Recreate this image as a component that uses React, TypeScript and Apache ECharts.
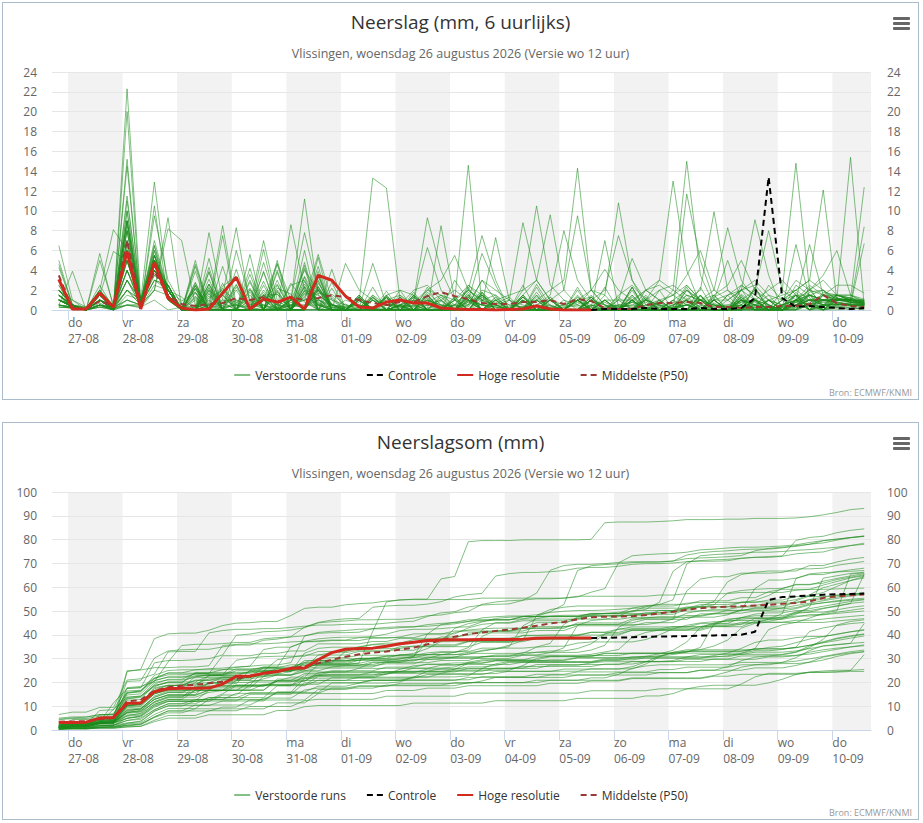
import React, { useEffect, useRef } from "react";
import * as echarts from "echarts";

const FONT = '"Open Sans", "DejaVu Sans", sans-serif';

// x-axis: hours relative to do 27-08 00:00 (local)
const dayNames = ["do", "vr", "za", "zo", "ma", "di", "wo", "do", "vr", "za", "zo", "ma", "di", "wo", "do"];
const dayDates = ["27-08", "28-08", "29-08", "30-08", "31-08", "01-09", "02-09", "03-09", "04-09", "05-09", "06-09", "07-09", "08-09", "09-09", "10-09"];
const shadedDays = [0, 2, 4, 6, 8, 10, 12, 14];
const firstStepHour = -4; // wo 26-08 20:00
const stepHours = 6;
const axisMinHour = -7;
const axisMaxHour = 353;

const legendNames = ["Verstoorde runs", "Controle", "Hoge resolutie", "Middelste (P50)"];

// Hoge resolutie, 6-hourly precipitation (mm), steps 0..39
const hiRes6h = [3.1, 0.1, 0.1, 1.7, 0.3, 5.9, 0.1, 4.8, 1.2, 0.2, 0, 0.1, 1.7, 3.3, 0.1, 1.1, 0.8, 1.3, 0.1, 3.5,
  3.0, 1.4, 0.3, 0.2, 0.8, 1.0, 0.7, 0.7, 0.2, 0.1, 0.05, 0.05, 0, 0.05, 0.1, 0.4, 0.1, 0, 0, 0];

// Controle, 6-hourly precipitation (mm), from step 39 to 59
const controlStartStep = 39;
const control6h = [0, 0.1, 0.1, 0.1, 0.2, 0.1, 0.1, 0.1, 0.2, 0.1, 0.1, 0.2, 1.2, 13.4, 1.2, 0.3, 0.4, 0.3, 0.2, 0.1, 0.2];

// Middelste (P50), cumulative (mm), steps 0..59
const medianCum = [3.5, 3.6, 3.7, 4.6, 5.0, 12.0, 12.6, 16.5, 18.0, 18.6, 19.0, 19.6, 20.3, 21.5, 22.5, 23.8, 24.5, 25.8, 26.8, 28.0,
  29.5, 30.8, 31.8, 32.5, 33.0, 33.8, 34.6, 36.0, 37.8, 39.2, 40.3, 41.0, 41.6, 42.2, 43.0, 43.8, 44.8, 45.4, 46.5, 47.4,
  47.6, 47.7, 47.8, 48.3, 49.0, 49.7, 50.5, 51.2, 51.5, 51.8, 52.0, 52.3, 52.6, 53.0, 53.4, 54.0, 55.5, 56.2, 56.6, 56.9];

// Verstoorde runs, 6-hourly precipitation (mm), steps 0..59
// per row: 26-08 20h | 27-08 (4) | 28-08 (4) | 29-08 ... 09-09 (4 each) | 10-09 (3)
const members6h: number[][] = [
  [1.0, 0.5, 0, 0.7, 0, 22.3, 1.0, 12.9, 2.0, 0.3, 0, 1.2, 2.0, 1.0, 0.2, 0.5, 0, 2.5, 3.0, 0.5, 0, 1.0, 0.5, 0.3, 0.8, 0.3, 0.5, 0, 8.5, 1.0, 14.6, 0.5, 0, 0, 0.3, 0, 0, 0, 0, 0.2, 7.0, 0.3, 0, 0, 0.2, 0.3, 0.5, 0, 0, 0.2, 0, 0.3, 0, 0, 0.2, 0.5, 0.8, 1.0, 1.2, 0.5],
  [3.0, 0.5, 0, 1.5, 0.2, 15.2, 0.3, 9.5, 3.0, 0.5, 0.2, 0, 1.0, 0.8, 0, 2.0, 0.5, 1.0, 4.0, 2.0, 1.0, 0.5, 0.2, 4.7, 0.5, 0.3, 0, 0.5, 1.0, 2.0, 1.0, 0.5, 7.3, 1.0, 0.5, 0, 0.3, 0.5, 1.0, 0.3, 0, 0.5, 0.8, 0.3, 0, 0.3, 0.5, 0.2, 0, 0.2, 1.0, 0.5, 0.3, 0.2, 6.6, 1.2, 0.5, 1.5, 1.0, 0.6],
  [6.5, 1.0, 0, 2.0, 0, 11.5, 0.5, 2.0, 9.3, 0.2, 0, 7.8, 1.0, 0.5, 0, 0.3, 0, 0.5, 0.5, 0.5, 0, 0.3, 0, 0, 0.5, 0.5, 0.3, 2.0, 1.5, 0.5, 2.0, 0.8, 0.3, 0.2, 1.5, 3.0, 9.6, 2.0, 0.5, 0, 0.3, 0.5, 0.3, 0, 0, 0.3, 2.5, 1.0, 0.5, 0.3, 0.5, 0.2, 0, 0.5, 1.0, 0.5, 1.5, 0.8, 0.5, 0.5],
  [2.0, 0.5, 0, 5.7, 0.3, 9.0, 0.2, 10.5, 1.0, 0, 0.3, 0.5, 1.5, 8.3, 0.5, 1.0, 0.2, 0.5, 1.0, 2.0, 0.5, 0.3, 0.5, 0, 0.2, 0, 0.5, 1.0, 0.3, 1.0, 0.5, 3.0, 1.0, 0.5, 0.3, 0.5, 0, 0.3, 0.5, 2.0, 1.5, 10.8, 3.0, 0.5, 0.3, 0.2, 0.5, 1.0, 0.3, 0.5, 0.3, 0, 0.2, 0.3, 0.5, 1.0, 0.8, 0.5, 0.8, 0.6],
  [1.5, 0.3, 0, 1.0, 0.5, 14.5, 0.5, 2.0, 8.2, 7.0, 0.5, 0, 0.3, 0.5, 0, 1.5, 0.5, 0.3, 0.5, 1.0, 0.3, 0, 0.2, 1.5, 0.5, 0.3, 0, 0.2, 0.5, 0.5, 1.0, 0.5, 0.3, 0, 0.3, 1.0, 2.0, 3.0, 14.3, 2.0, 0.5, 0.3, 0.5, 0.2, 0, 0.5, 1.0, 0.3, 0.2, 0.3, 0.5, 2.0, 1.0, 0.5, 0.3, 1.0, 0.5, 1.2, 1.0, 0.7],
  [0.5, 3.9, 0, 0.5, 0, 20.0, 0.3, 1.0, 0, 0.3, 0, 0.5, 8.5, 0.5, 0.2, 0, 0.3, 0.5, 0.3, 1.0, 0.5, 0.2, 0, 0.3, 1.0, 1.5, 0.5, 0, 0.3, 0.5, 0.3, 2.0, 1.5, 0.5, 0.3, 0, 0.2, 0.3, 0, 0.5, 0.3, 0.5, 0.2, 1.0, 3.0, 13.0, 4.0, 0.5, 0.3, 0.2, 0.5, 0.3, 0, 0.5, 1.0, 0.5, 0.3, 1.5, 1.2, 1.0],
  [5.0, 0.5, 0, 1.0, 0, 9.0, 0.5, 7.0, 2.0, 0.3, 0, 0.5, 0.2, 0.5, 0.3, 0.5, 0, 1.0, 11.2, 1.5, 0.5, 0.3, 0.5, 0.2, 0, 0.5, 0.3, 1.0, 0.5, 0.3, 0.5, 1.5, 0.5, 0.3, 0, 0.5, 1.0, 0.5, 0.3, 0, 0.2, 0.3, 0.5, 1.0, 0.5, 2.0, 15.0, 3.5, 0.5, 0.3, 0.2, 0.5, 0, 0.3, 0.5, 0.3, 0.5, 0.5, 0.7, 0.5],
  [2.5, 0.2, 0, 1.5, 0.3, 11.0, 1.0, 5.0, 2.5, 0, 1.3, 0, 0, 1.0, 0.5, 7.0, 1.0, 0, 2.3, 0, 0.5, 0, 0, 1.0, 0, 0.5, 1.3, 0, 0, 0, 2.5, 1.5, 0.5, 0, 1.0, 0, 0, 0, 1.0, 1.3, 0, 0, 0, 0, 2.0, 0, 0.8, 1.0, 2.0, 8.3, 3.0, 1.0, 0.5, 0, 0, 2.3, 0, 1.5, 1.2, 0.7],
  [1.0, 0.3, 0, 2.0, 8.1, 6.0, 0.5, 4.0, 2.0, 0, 0, 0, 1.5, 0, 0, 1.0, 0, 8.6, 2.0, 0.5, 0.3, 0, 1.0, 0, 0, 0, 0, 1.5, 0, 1.3, 0, 0, 0, 0, 0, 1.8, 0, 0, 1.0, 0, 0, 0, 2.3, 0, 0, 0, 11.7, 5.0, 1.0, 0, 1.5, 0, 0, 0.3, 1.5, 0, 0.3, 1.2, 0.8, 0.8],
  [4.6, 0.5, 0.3, 1.0, 0, 10.0, 0.3, 5.0, 1.5, 0, 0.5, 0, 7.5, 0, 0, 1.0, 0, 1.0, 0, 3.0, 0, 0, 0, 1.0, 0, 1.3, 0, 0, 0, 0, 2.3, 0, 0, 0, 0, 1.0, 0, 0, 2.0, 0, 0, 0, 0, 1.3, 0, 0, 2.3, 0, 0, 1.0, 2.0, 9.1, 3.5, 0, 0.8, 1.5, 0, 1.2, 0.8, 0.7],
  [1.5, 0.5, 0, 2.5, 0.2, 10.0, 0.5, 5.5, 1.5, 0, 1.2, 0, 0, 0, 1.0, 0, 0, 0.5, 1.0, 5.6, 1.0, 0, 1.0, 0, 0, 0, 0, 2.3, 0, 0, 1.5, 0, 0, 0, 2.5, 0, 0.2, 0, 0, 1.0, 0, 0, 1.5, 0, 0, 1.0, 0, 0, 1.0, 0, 0, 2.3, 0, 2.0, 14.8, 2.0, 0.5, 0.3, 0.3, 0.3],
  [1.0, 0.3, 0, 5.0, 0.5, 9.0, 0.5, 4.5, 1.5, 0, 0, 1.0, 0, 6.0, 1.0, 0.5, 0.2, 0, 0, 2.0, 0, 0, 1.3, 0, 0, 0, 1.0, 0, 0, 0, 1.8, 0, 0, 0, 0, 1.5, 0, 0, 1.3, 0, 0, 0, 2.0, 0, 0, 0, 0, 0, 1.5, 0, 0, 2.3, 0, 1.0, 2.0, 3.0, 12.1, 1.0, 1.0, 0.5],
  [2.0, 0.5, 0, 1.5, 0, 9.0, 1.0, 6.0, 1.0, 0, 1.0, 0, 0, 0, 0, 1.5, 0, 1.0, 7.8, 2.0, 0.5, 0, 0, 1.0, 0, 0, 1.3, 0, 0, 0, 0, 1.5, 0, 0, 1.0, 0, 0, 0, 0, 1.5, 0, 1.3, 0, 0, 0, 0, 0, 0, 1.5, 0, 1.3, 0, 0, 0, 0, 1.8, 2.0, 1.1, 15.4, 0.5],
  [1.5, 0, 0, 2.0, 0.5, 8.5, 0.3, 6.5, 2.0, 0, 2.5, 0, 0, 0, 0, 1.0, 4.7, 1.0, 1.0, 0, 0, 0, 1.5, 0, 0, 2.0, 0, 0, 0, 0, 0, 1.8, 0, 0, 1.3, 0, 0, 0, 0, 0, 2.3, 0, 1.5, 0, 0, 1.0, 0, 0, 1.3, 2.0, 1.0, 0.8, 0, 0, 1.5, 0, 1.5, 1.0, 1.1, 12.4],
  [4.3, 0.5, 0, 1.0, 0, 8.0, 0.5, 4.5, 1.0, 0, 4.4, 0, 0, 0, 0, 1.8, 0, 0, 2.3, 0, 0, 4.7, 2.0, 1.0, 0.5, 0, 1.5, 0, 0, 3.0, 1.0, 0.5, 0.3, 0, 0, 2.3, 0, 0, 1.5, 0, 0, 1.0, 1.0, 0, 0, 0, 2.0, 1.0, 1.0, 5.0, 1.0, 0.5, 0.3, 0, 1.8, 0, 0.5, 1.5, 1.0, 1.0],
  [1.0, 0.3, 0, 1.5, 5.9, 5.0, 0.5, 4.0, 2.0, 0, 0, 2.6, 0.4, 2.5, 0, 0, 0, 0, 0, 2.3, 0.5, 0, 1.0, 0, 0, 0.5, 1.0, 9.3, 4.0, 1.0, 1.0, 0, 0, 0, 1.3, 0, 0, 0, 0, 1.3, 0, 0, 2.3, 0, 0, 0, 0, 1.5, 0, 0, 0.8, 1.0, 2.0, 3.0, 1.5, 0, 1.5, 1.2, 1.0, 1.0],
  [2.0, 1.0, 0.3, 1.5, 0.5, 8.0, 0.3, 5.0, 1.5, 0, 2.8, 0, 0, 2.0, 0, 1.5, 0, 0, 2.0, 1.5, 0.5, 0, 1.0, 0, 0, 0, 0.8, 2.0, 3.0, 5.5, 2.0, 1.0, 0.5, 0, 1.5, 0, 0, 0, 0, 1.3, 0, 0, 0.8, 2.0, 1.0, 0, 0, 1.5, 0, 0, 1.3, 0, 2.5, 1.0, 0, 0, 1.8, 1.5, 1.5, 0.9],
  [1.5, 0.5, 0, 1.0, 0.3, 8.0, 0.5, 5.5, 1.5, 0, 2.2, 0, 0, 0, 0, 3.8, 0, 1.0, 0, 2.0, 0, 0, 1.5, 0, 0, 0.5, 1.0, 6.3, 2.0, 0, 0.8, 1.5, 0, 0, 1.3, 0, 0, 0, 2.3, 0, 0, 0, 0, 1.5, 0, 0, 0, 2.3, 0, 1.5, 0, 0, 0, 1.0, 3.0, 2.0, 1.5, 2.5, 2.5, 1.7],
  [2.0, 0.3, 0, 1.0, 0, 7.0, 1.0, 6.5, 1.0, 0, 0, 3.9, 0, 0, 2.0, 0, 0, 0, 3.3, 0, 0, 0, 0, 1.3, 0, 0, 0, 0.8, 1.5, 1.0, 2.0, 7.5, 3.0, 0, 1.5, 0, 0, 0, 0, 1.3, 0, 0, 2.3, 0, 0, 0, 1.5, 0, 0, 0, 2.1, 0, 0, 0, 1.0, 2.0, 3.0, 1.5, 1.5, 1.1],
  [1.0, 0.5, 0, 1.5, 0.2, 7.0, 0.5, 6.0, 2.0, 0, 2.1, 0, 1.5, 0, 0, 3.9, 0, 1.2, 0, 0, 0, 0, 0.8, 13.3, 12.3, 1.0, 0, 0, 0, 0, 0, 0.6, 0, 0, 0, 0, 0, 0, 0.8, 0, 0, 0, 0, 0, 0.5, 0, 0.6, 0, 0, 0, 0.5, 0, 0, 0, 0.9, 0.4, 0, 0.2, 0.2, 0.1],
  [1.5, 0.5, 0, 1.0, 0.3, 7.0, 0.5, 5.5, 1.5, 0, 4.6, 0.5, 0, 0, 0, 1.2, 1.6, 0, 0, 2.7, 0.6, 0, 1.2, 0, 0, 1.5, 0, 0, 0, 0, 0, 1.8, 0.5, 1.0, 8.8, 3.0, 1.0, 0, 0, 0, 0, 0.3, 0, 1.2, 0, 0, 2.0, 0.5, 0, 0, 0, 0.5, 1.0, 0, 0, 1.5, 1.0, 0.8, 0.5, 0.5],
  [2.5, 0.3, 0, 1.5, 0, 6.5, 0.5, 5.0, 1.5, 0, 0, 1.7, 0, 0, 5.6, 0, 0, 0.8, 0, 3.4, 0, 0.6, 0, 0, 1.2, 0, 0, 0.5, 1.0, 0, 1.0, 5.7, 2.5, 0, 1.0, 0, 0, 0.5, 1.0, 0, 0, 0, 0, 0, 0.8, 1.5, 2.5, 1.0, 0, 0, 0, 1.2, 0, 0, 1.0, 1.0, 1.0, 1.0, 1.0, 0.7],
  [1.0, 0.5, 0.2, 2.0, 0.3, 6.0, 1.0, 5.0, 2.0, 1.3, 0, 2.2, 0, 0, 0, 0.9, 2.6, 0, 4.2, 0, 0, 0, 0, 1.2, 0.5, 0.5, 0, 1.0, 0.5, 0, 0, 1.5, 0, 0, 0, 0.5, 1.5, 8.0, 3.0, 1.0, 0.5, 0, 0, 0, 0.3, 0.8, 0, 0, 0.7, 0, 1.0, 0, 0, 0.5, 1.5, 1.0, 0, 1.2, 0.8, 0.5],
  [1.5, 0.3, 0, 1.0, 0.5, 6.0, 0.5, 5.5, 1.5, 0, 0, 3.1, 0, 0.7, 2.2, 0, 1.9, 0, 1.4, 2.9, 0, 0, 1.0, 0, 0, 0.4, 0, 1.2, 0, 0, 1.0, 0.5, 1.0, 1.5, 2.0, 10.5, 2.5, 1.0, 0.5, 0, 0, 0, 0, 0, 0, 0, 1.2, 0.3, 0, 0, 0, 0, 1.0, 0, 1.5, 0, 0, 0.5, 0.5, 0.3],
  [2.0, 0.5, 0, 1.5, 0.3, 6.0, 0.3, 4.5, 2.0, 0.9, 1.8, 0, 2.2, 0, 0, 1.6, 0, 2.7, 0.8, 0, 0, 0, 0, 1.5, 0, 0.4, 0, 1.6, 0, 0, 1.6, 0, 0, 0, 0, 2.6, 0.4, 0, 1.3, 0.5, 0, 0, 0, 1.0, 2.0, 2.5, 1.5, 1.0, 0.5, 0, 1.0, 0.5, 0, 0, 2.5, 1.5, 1.0, 1.0, 1.0, 0.7],
  [1.0, 0.5, 0, 2.0, 0.2, 6.0, 0.5, 5.0, 1.5, 0, 0, 0, 4.4, 0, 1.5, 0, 0.6, 0, 2.6, 0.7, 0, 0, 0, 0, 1.9, 0, 1.3, 0, 0, 1.0, 0, 0, 0.8, 0, 0, 0, 1.0, 2.0, 9.5, 2.0, 0.5, 0, 0.8, 0, 0, 0, 0, 0.5, 1.0, 0, 1.6, 0.5, 0, 0, 0.5, 1.5, 0.5, 0.6, 0.5, 0.4],
  [1.5, 0.3, 0, 1.0, 0, 5.0, 1.0, 5.5, 2.0, 0, 1.4, 0, 0, 0, 0, 4.8, 0.5, 0, 1.9, 1.1, 0, 0, 0, 2.3, 0, 0, 0, 0, 0.9, 0, 0, 1.7, 0, 0, 0.8, 1.0, 0.5, 0, 1.0, 2.0, 4.1, 2.0, 1.0, 0, 0, 0, 0, 1.4, 0, 0, 2.5, 1.5, 0.5, 0, 1.0, 0, 1.0, 1.0, 1.0, 0.6],
  [1.0, 0.5, 0, 1.5, 0.3, 5.0, 0.5, 5.0, 2.0, 0, 0, 2.6, 0, 0, 0, 0, 2.2, 1.6, 0, 5.3, 0, 0, 0, 0, 1.3, 0, 1.8, 0, 0, 0, 0, 0, 0.5, 0, 1.5, 0, 0, 0, 0, 1.0, 2.0, 7.5, 3.0, 1.0, 0.5, 0, 0.5, 0, 1.0, 0, 0, 0.9, 0, 0, 1.0, 1.5, 1.0, 0.8, 0.6, 0.5],
  [2.0, 0.5, 0, 1.0, 0.2, 5.0, 0.5, 4.5, 2.0, 0, 2.4, 0, 0.7, 0, 0, 6.1, 0, 0, 0, 0, 1.6, 0.5, 0, 0, 0.8, 0, 0, 1.8, 0.5, 0, 0, 0, 0, 0, 1.3, 0, 0, 0, 0, 0.4, 1.0, 1.0, 5.2, 2.0, 1.0, 0, 0, 1.5, 0, 0, 1.0, 0.5, 1.5, 1.0, 1.5, 0.5, 0, 1.0, 1.0, 0.7],
  [1.0, 0.3, 0, 1.5, 0.5, 5.0, 0.5, 4.0, 2.0, 0, 0, 5.2, 0, 0, 0, 1.5, 1.6, 0, 1.3, 0, 0, 0, 1.5, 0, 0, 0, 0, 0, 1.3, 0, 0.8, 0, 1.0, 0, 0, 0, 0.5, 0, 1.0, 0, 0, 0, 0, 0.5, 1.0, 1.5, 3.5, 6.0, 2.0, 1.0, 0, 0, 0.5, 0, 1.0, 1.0, 0, 1.0, 0.8, 0.8],
  [1.5, 0.5, 0, 1.0, 0.3, 4.0, 1.0, 4.5, 2.0, 0, 0, 1.9, 0, 4.1, 0, 0, 0, 0, 2.9, 0, 1.2, 0, 0, 0, 1.5, 0, 0, 1.3, 0, 0.5, 0, 0, 1.0, 0, 0, 0, 0, 0, 1.0, 0, 0, 0, 0, 0.5, 0.5, 0.5, 1.0, 2.0, 9.9, 2.0, 0.5, 0, 0, 0, 0.8, 0, 0.5, 0.6, 0.5, 0.5],
  [2.0, 0.5, 0, 1.0, 0, 4.0, 0.5, 5.0, 1.5, 0, 0, 2.3, 0, 0, 0, 0, 4.6, 0, 0, 1.7, 1.4, 0, 0, 0, 0, 0, 1.5, 0, 0, 0.5, 2.0, 1.0, 0, 0, 0, 1.3, 0, 0, 0, 0, 1.5, 0, 0, 0, 0, 0, 0.5, 1.0, 1.5, 2.5, 5.0, 2.0, 0.5, 0, 0.8, 0, 0.5, 0.6, 0.5, 0.5],
  [1.0, 0.3, 0, 1.5, 0.2, 4.0, 0.5, 4.0, 2.0, 0, 5.0, 0, 0, 0, 0, 0, 2.0, 0, 0, 3.6, 0, 0, 0, 0, 0, 0, 0, 1.5, 0, 0, 0.9, 0, 0.6, 1.3, 0, 0, 0, 0, 0, 0, 0.8, 0, 1.0, 0, 0, 0, 0, 0, 0.5, 0.5, 1.0, 2.0, 8.0, 2.0, 1.0, 0, 0, 0.6, 0.5, 0.5],
  [1.5, 0.5, 0, 1.0, 0.3, 4.0, 0.5, 4.0, 2.0, 0, 0, 2.0, 0.8, 0, 3.6, 0, 0, 0, 1.7, 1.1, 0, 0, 0, 0, 1.5, 0, 0, 0, 0, 1.0, 2.5, 1.0, 0.5, 0, 0, 0, 1.3, 0, 0, 0.5, 0, 0, 1.0, 0, 0, 0, 0, 0, 0, 0, 0, 1.0, 0, 0.5, 1.0, 6.6, 1.5, 1.0, 0.8, 0.5],
  [1.0, 0.5, 0.2, 1.0, 0.3, 3.0, 1.0, 5.0, 2.0, 0, 2.7, 0, 0, 0, 0, 0, 4.0, 0, 0, 2.1, 0.6, 0, 0, 0, 0, 1.3, 0, 0, 0, 0, 0, 0, 1.3, 0, 0, 1.5, 0, 0, 0, 0, 0, 0, 1.3, 0, 0, 0, 0, 0, 1.0, 0, 1.3, 0, 0, 0.5, 1.0, 2.0, 3.5, 6.0, 1.5, 0.7],
  [1.5, 0.3, 0, 1.0, 0, 3.0, 0.5, 4.5, 2.0, 0, 0, 0, 2.4, 3.4, 0, 0, 0, 0, 4.5, 0, 0, 0, 0, 1.3, 0, 0, 0, 0, 0, 0, 1.5, 0, 0, 0, 0, 0, 1.3, 0, 0, 1.0, 0.5, 0, 0, 0, 0, 0.5, 1.5, 1.0, 0, 0, 0, 1.0, 0, 0, 0.5, 1.0, 1.0, 0.6, 0.6, 8.4],
  [1.0, 0.5, 0, 1.5, 0.3, 3.0, 0.5, 4.0, 2.0, 0, 3.9, 0, 0, 0, 0, 2.5, 0, 0, 0, 0, 2.8, 0, 0, 0, 1.5, 2.0, 1.5, 0.5, 0, 0, 0, 0, 0, 0, 1.0, 0, 0, 0, 0, 0, 1.0, 0, 0, 0.8, 0, 0, 0, 0, 1.0, 1.0, 2.0, 2.5, 1.0, 0, 1.0, 0.5, 0, 1.0, 1.0, 0.9],
  [0.5, 0.3, 0, 1.0, 0.2, 3.0, 1.0, 4.0, 2.0, 0, 0, 1.6, 0, 0, 0, 0, 5.0, 0, 0, 2.3, 0, 0, 1.3, 0, 0, 0, 0, 0, 1.5, 0, 0, 0, 0, 1.0, 0, 0, 0, 0, 0, 1.0, 0, 0, 0, 2.0, 3.0, 2.0, 1.0, 0, 0, 0, 0, 0, 1.0, 0.5, 1.5, 1.5, 1.0, 1.0, 1.0, 0.7],
  [1.0, 0.5, 0, 1.0, 0.3, 2.0, 1.0, 4.5, 2.0, 0, 0, 4.3, 0, 2.3, 0, 0, 0, 0, 1.9, 0, 0, 0, 0, 0, 0, 0, 1.5, 0, 0, 0, 0.5, 3.0, 2.0, 1.0, 0, 0, 0, 0, 0, 0, 1.0, 0, 1.0, 0, 0, 0, 0, 0, 0, 0, 1.0, 0, 0, 0, 1.0, 2.5, 1.5, 1.5, 1.0, 0.9],
  [2.0, 0.5, 0, 0.5, 0, 2.0, 0.5, 4.0, 2.5, 0, 0, 0, 2.7, 0, 4.2, 0, 0, 0, 0, 3.6, 0, 0, 0, 0, 1.3, 0, 0, 0, 0, 1.3, 0, 0, 0, 0, 2.0, 3.0, 1.0, 0, 0, 0, 1.0, 0, 0, 0, 0, 0, 1.0, 0, 0, 0, 0, 1.0, 0, 0, 0.5, 1.0, 1.5, 1.5, 1.0, 0.8],
  [0.5, 0.3, 0, 1.0, 0.2, 2.0, 1.0, 3.5, 2.5, 0, 1.8, 0, 0, 0, 0, 0, 3.0, 0, 6.0, 0, 0, 0, 0, 0, 0, 0, 0, 1.5, 0, 0, 0, 0, 1.3, 0, 0, 0, 0, 1.0, 0, 0, 0, 0, 1.0, 2.0, 2.5, 1.5, 0.5, 0, 0, 0, 0, 1.0, 0, 0, 0.5, 1.0, 1.0, 1.0, 1.0, 0.9],
  [1.0, 0.3, 0, 0.5, 0.2, 2.0, 0.5, 4.0, 2.5, 0, 0, 2.6, 0, 0, 2.1, 0, 0, 0, 0, 0, 4.1, 0, 0, 1.0, 0, 0, 0, 0, 0, 0, 1.3, 0, 0, 0, 0, 0, 1.0, 0, 0, 0, 0, 1.0, 0, 0, 0, 0, 0, 1.0, 0, 1.5, 2.5, 1.5, 0.5, 0, 0.3, 0.5, 1.0, 1.0, 1.0, 0.9],
  [0.5, 0.3, 0, 0.5, 0, 1.5, 1.0, 4.0, 2.5, 0, 0, 0, 1.9, 0, 2.8, 0, 0, 0, 4.8, 0, 0, 0, 0, 1.3, 0, 0, 0, 0, 0, 0, 0, 1.3, 0, 0, 0, 1.0, 0, 0, 1.0, 0, 0, 0, 0, 0, 1.0, 0, 1.0, 0, 0, 0, 1.0, 0, 0, 1.0, 2.0, 3.0, 2.0, 0.5, 0.5, 0.4],
  [1.0, 0.3, 0, 0.5, 0.2, 1.0, 0.5, 4.5, 2.0, 0, 2.2, 0, 0, 0, 0, 0, 3.8, 0, 0, 2.4, 0, 0, 1.3, 0, 0, 0.5, 2.0, 2.5, 1.0, 0, 0, 0, 0, 0, 1.0, 0, 0, 0, 0, 0, 1.0, 0, 0, 1.0, 0, 0, 1.0, 0, 0, 0, 0, 0, 1.0, 0, 0.5, 1.5, 1.0, 0.7, 0.5, 0.5],
  [0.5, 0.2, 0, 0.5, 0.3, 1.0, 0.5, 3.5, 2.5, 0, 0, 3.8, 0, 2.6, 0, 0, 0, 0, 0, 0, 2.2, 0, 1.0, 0, 0, 0, 0, 0, 0, 0, 1.3, 0, 0, 0, 0, 0, 1.0, 0, 0, 1.0, 0, 1.5, 2.5, 1.0, 0.5, 0, 0, 0, 0, 0, 1.0, 0, 0, 0, 0.5, 1.0, 1.0, 1.0, 1.0, 0.7],
  [0.3, 0.2, 0, 0.5, 0, 1.0, 0.5, 3.0, 2.5, 0, 2.5, 0, 0, 0, 0, 2.9, 0, 0, 3.4, 0.8, 0, 0, 0, 0, 1.3, 0, 0, 0, 0, 1.0, 0, 0, 0, 0, 0, 1.0, 0, 0, 0, 0, 0, 0, 1.0, 0, 0, 0, 0, 0, 1.0, 1.5, 2.0, 1.0, 0.5, 0, 0, 0.5, 1.0, 1.5, 1.2, 0.7],
  [0.5, 0.3, 0, 0.5, 0.2, 0.5, 0.5, 3.0, 2.5, 0, 0, 0, 1.6, 0, 3.0, 0, 0, 0, 0, 4.4, 0, 0, 1.3, 0, 0, 1.3, 0, 0, 0, 0, 0, 1.0, 1.5, 0, 0, 0, 0, 0, 1.0, 0, 0, 0, 0, 0, 1.0, 0, 0, 1.0, 0, 0, 0, 1.0, 0, 0, 1.0, 1.5, 2.0, 1.0, 0.8, 0.6],
  [0.5, 0.2, 0, 0.3, 0.2, 0.5, 0.5, 3.0, 2.0, 0, 1.7, 0, 0, 0, 0, 0, 2.5, 0, 0, 3.9, 0, 0, 0, 0, 1.3, 0, 0, 1.0, 0, 0, 1.0, 0, 0, 0, 0, 0, 1.0, 0, 0, 1.0, 0, 0, 1.0, 0, 0, 0, 0, 0, 1.0, 0, 0.8, 0, 0, 0, 0, 0.8, 0, 0.3, 0.5, 6.7],
  [0.3, 0.2, 0, 0.3, 0, 0.5, 0.3, 2.5, 2.0, 0, 0, 2.0, 0, 0, 1.8, 0, 0, 0, 2.4, 0.6, 0, 0, 0, 0, 1.3, 0, 0, 0, 0, 0, 1.3, 0, 0, 0, 0, 0, 0, 0, 0, 1.0, 0, 0, 0, 0, 0.8, 0, 0, 0, 0, 0, 2.0, 3.0, 1.5, 0, 0, 0.5, 0, 0, 0.3, 0],
  [0.3, 0.2, 0, 0.3, 0, 0.5, 0.2, 2.0, 1.5, 0, 0, 1.4, 0, 0, 0, 0, 1.8, 0, 1.6, 0.5, 0, 0, 0, 0, 0, 0, 1.0, 0, 0, 0, 0, 0, 1.0, 0, 0, 0, 0, 0, 1.0, 0, 0, 0, 0, 1.0, 0, 1.0, 2.0, 1.0, 0.5, 0, 0, 0, 1.0, 1.5, 2.0, 1.0, 0.5, 0.3, 0, 0.3],
];

const stepHour = (i: number) => firstStepHour + stepHours * i;
const cumulative = (arr: number[], start = 0) => {
  let s = start;
  return arr.map((v) => {
    s += v;
    return Math.round(s * 100) / 100;
  });
};
const toPoints = (arr: number[], offset = 0) => arr.map((v, i) => [stepHour(i + offset), v]);

const hiResCum = cumulative(hiRes6h);
const controlCum = cumulative(control6h, hiResCum[controlStartStep - 1]);
const median6h = medianCum.map((v, i) => (i === 0 ? v : Math.max(0, Math.round((v - medianCum[i - 1]) * 100) / 100)));
const membersCum = members6h.map((m) => cumulative(m));

const MEMBER_COLOR = "rgba(30,140,30,0.55)";
const HIRES_COLOR = "#d12a1f";
const P50_COLOR = "#9a3a34";
const LABEL_COLOR = "#666666";

function buildOption(kind: "rate" | "sum") {
  const isRate = kind === "rate";
  const title = isRate ? "Neerslag (mm, 6 uurlijks)" : "Neerslagsom (mm)";
  const subtitle = "Vlissingen, woensdag 26 augustus 2026 (Versie wo 12 uur)";
  const yMax = isRate ? 24 : 100;
  const yInterval = isRate ? 2 : 10;
  const tickValues = dayDates.map((_, i) => i * 24);

  const memberSeries = (isRate ? members6h : membersCum).map((m) => ({
    type: "line",
    name: legendNames[0],
    data: toPoints(m),
    symbol: "none",
    silent: true,
    z: 3,
    lineStyle: { width: 1, color: MEMBER_COLOR },
    itemStyle: { color: MEMBER_COLOR },
    emphasis: { disabled: true },
  }));

  const yAxisBase = {
    type: "value",
    min: 0,
    max: yMax,
    interval: yInterval,
    z: 2,
    axisLine: { show: false },
    axisTick: { show: false },
    axisLabel: { color: LABEL_COLOR, fontSize: 12, fontFamily: FONT },
  };

  const xAxisBase = {
    type: "value",
    min: axisMinHour,
    max: axisMaxHour,
    position: "bottom",
    z: 2,
    splitLine: { show: false },
  };

  return {
    animation: false,
    textStyle: { fontFamily: FONT },
    title: [
      { text: title, left: "center", top: 4, textStyle: { fontSize: 19, fontWeight: "normal", color: "#333333", fontFamily: FONT } },
      { text: subtitle, left: "center", top: 39, textStyle: { fontSize: 12.5, fontWeight: "normal", color: LABEL_COLOR, fontFamily: FONT } },
    ],
    legend: {
      data: legendNames,
      left: "center",
      top: 361,
      itemWidth: 16,
      itemHeight: 14,
      itemGap: 20,
      selectedMode: false,
      itemStyle: { opacity: 0 },
      textStyle: { fontSize: 12, color: "#333333", fontFamily: FONT },
    },
    grid: { left: 49, right: 47, top: 69, bottom: 89 },
    xAxis: [
      {
        ...xAxisBase,
        axisLine: { show: true, lineStyle: { color: "#ccd6eb" } },
        axisTick: { show: true, customValues: tickValues, length: 10, lineStyle: { color: "#ccd6eb" } },
        axisLabel: {
          customValues: tickValues,
          formatter: (v: number) => dayNames[Math.round(v / 24)],
          align: "left",
          margin: 6,
          color: LABEL_COLOR,
          fontSize: 12,
          fontFamily: FONT,
        },
      },
      {
        ...xAxisBase,
        axisLine: { show: false },
        axisTick: { show: false },
        axisLabel: {
          customValues: tickValues,
          formatter: (v: number) => dayDates[Math.round(v / 24)],
          align: "left",
          margin: 22,
          color: LABEL_COLOR,
          fontSize: 12,
          fontFamily: FONT,
        },
      },
    ],
    yAxis: [
      { ...yAxisBase, position: "left", splitLine: { show: true, lineStyle: { color: "#e6e6e6" } }, axisLabel: { ...yAxisBase.axisLabel, margin: 15 } },
      { ...yAxisBase, position: "right", splitLine: { show: false }, axisLabel: { ...yAxisBase.axisLabel, margin: 16 } },
    ],
    graphic: [
      { type: "rect", left: 890, top: 14, shape: { width: 17, height: 3, r: 1 }, style: { fill: "#666666" } },
      { type: "rect", left: 890, top: 19, shape: { width: 17, height: 3, r: 1 }, style: { fill: "#666666" } },
      { type: "rect", left: 890, top: 24, shape: { width: 17, height: 3, r: 1 }, style: { fill: "#666666" } },
      { type: "text", right: 6, top: 385, style: { text: "Bron: ECMWF/KNMI", fill: "#999999", font: `9px ${FONT}` } },
    ],
    series: [
      {
        type: "line",
        data: [],
        z: 1,
        silent: true,
        markArea: {
          silent: true,
          itemStyle: { color: "#f2f2f2" },
          data: shadedDays.map((d) => [{ xAxis: d * 24 }, { xAxis: Math.min((d + 1) * 24, axisMaxHour) }]),
        },
      },
      ...memberSeries,
      {
        type: "line",
        name: legendNames[3],
        data: toPoints(isRate ? median6h : medianCum),
        symbol: "none",
        silent: true,
        z: 4,
        lineStyle: { width: 2, color: P50_COLOR, type: [6, 4] },
        itemStyle: { color: P50_COLOR },
      },
      {
        type: "line",
        name: legendNames[2],
        data: toPoints(isRate ? hiRes6h : hiResCum),
        symbol: "none",
        silent: true,
        z: 5,
        lineStyle: { width: 3, color: HIRES_COLOR },
        itemStyle: { color: HIRES_COLOR },
      },
      {
        type: "line",
        name: legendNames[1],
        data: toPoints(isRate ? control6h : controlCum, controlStartStep),
        symbol: "none",
        silent: true,
        z: 6,
        lineStyle: { width: 2, color: "#000000", type: [6, 4] },
        itemStyle: { color: "#000000" },
      },
    ],
  };
}

function ChartBox({ kind, top }: { kind: "rate" | "sum"; top: number }) {
  const ref = useRef<HTMLDivElement>(null);
  useEffect(() => {
    if (!ref.current) return;
    const chart = echarts.init(ref.current, undefined, { renderer: "svg" });
    chart.setOption(buildOption(kind) as any);
    return () => chart.dispose();
  }, [kind]);
  return (
    <div
      style={{
        position: "absolute",
        left: 2,
        top,
        width: 917,
        height: 398,
        border: "1px solid #aabccb",
        boxSizing: "border-box",
        background: "#ffffff",
      }}
    >
      <div ref={ref} style={{ width: 915, height: 396 }} />
    </div>
  );
}

export default function App() {
  return (
    <div>
      <ChartBox kind="rate" top={2} />
      <ChartBox kind="sum" top={422} />
    </div>
  );
}
